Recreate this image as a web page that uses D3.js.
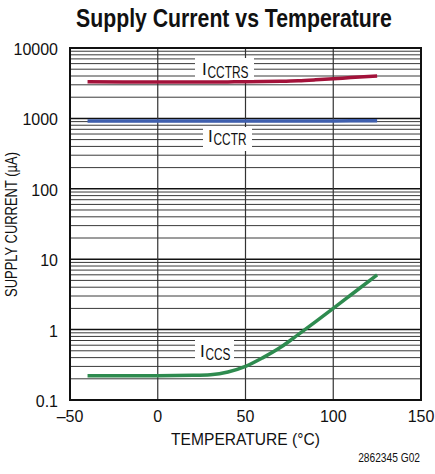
<!DOCTYPE html>
<html><head><meta charset="utf-8">
<script src="https://cdn.jsdelivr.net/npm/d3@7"></script>
<style>body{margin:0;background:#fff}svg{display:block}text{font-family:"Liberation Sans",Arial,sans-serif}</style>
</head><body>
<script>
const temps = [-40,-20,0,20,30,40,50,60,70,80,90,100,110,125];
const iccTRS = [3320,3300,3290,3290,3290,3300,3310,3330,3370,3430,3530,3650,3800,4000];
const iccTR  = [918,918,918,918,918,918,918,918,919,920,921,922,923,925];
const iccS   = [0.221,0.221,0.221,0.224,0.229,0.25,0.30,0.40,0.56,0.85,1.3,2.0,3.1,6.0];
const xTicks = [-50,0,50,100,150];
const yTicks = [0.1,1,10,100,1000,10000];
const yTickLabels = ["0.1","1","10","100","1000","10000"];

const W=435,H=474, L=70,R=421,T=48,B=400;
const svg=d3.select("body").append("svg").attr("width",W).attr("height",H);
const x=d3.scaleLinear().domain([-50,150]).range([L,R]);
const y=d3.scaleLog().domain([0.1,10000]).range([B,T]);

// grid
const minor=[];
for(let e=-1;e<4;e++){for(let m=2;m<=9;m++){minor.push(m*Math.pow(10,e));}}
svg.append("g").selectAll("line").data(minor).join("line")
 .attr("x1",L).attr("x2",R).attr("y1",d=>y(d)).attr("y2",d=>y(d))
 .attr("stroke","#3a3a3a").attr("stroke-width",1);
svg.append("g").selectAll("line").data(yTicks).join("line")
 .attr("x1",L).attr("x2",R).attr("y1",d=>y(d)).attr("y2",d=>y(d))
 .attr("stroke","#111").attr("stroke-width",1.5);
svg.append("g").selectAll("line").data(xTicks).join("line")
 .attr("y1",T).attr("y2",B).attr("x1",d=>x(d)).attr("x2",d=>x(d))
 .attr("stroke","#333").attr("stroke-width",1.2);
svg.append("rect").attr("x",L).attr("y",T).attr("width",R-L).attr("height",B-T)
 .attr("fill","none").attr("stroke","#111").attr("stroke-width",2);

// curves
const line=d3.line().curve(d3.curveMonotoneX);
function drawSeries(vals,color){
  svg.append("path").attr("d",line(temps.map((t,i)=>[x(t),y(vals[i])])))
   .attr("fill","none").attr("stroke",color).attr("stroke-width",3.5);
}
drawSeries(iccTRS,"#a3123a");
drawSeries(iccTR,"#3f5fae");
drawSeries(iccS,"#2e8b4f");

// condensed text helper: scales horizontally to a target width
function condensed(parent,str,size,targetW,anchor,tx,ty,rot,weight){
  const g=parent.append("g");
  const t=g.append("text").attr("font-size",size).attr("fill","#111").attr("text-anchor",anchor)
    .attr("font-weight",weight||"normal").text(str);
  const w=t.node().getComputedTextLength();
  const s=targetW/w;
  g.attr("transform",`translate(${tx},${ty})`+(rot?` rotate(${rot})`:"")+` scale(${s},1)`);
  return g;
}

// labels with white background
function label(box,ix,iy,sub,subW){
  const g=svg.append("g");
  g.append("rect").attr("fill","#fff").attr("x",box[0]).attr("y",box[1]).attr("width",box[2]-box[0]).attr("height",box[3]-box[1]);
  g.append("text").attr("x",ix).attr("y",iy).attr("font-size",17).attr("fill","#111").text("I");
  condensed(g,sub,16.5,subW,"start",ix+5.5,iy+3);
}
label([195,58,254,80],202,75,"CCTRS",41);
label([203,127,252,151],208,142,"CCTR",33);
label([195,338,234,365],200,357,"CCS",25);

// axes labels
svg.append("g").selectAll("text").data(xTicks).join("text")
 .attr("x",d=>x(d)).attr("y",422).attr("text-anchor","middle").attr("font-size",16).attr("fill","#111")
 .text(d=>d<0?"\u2013"+Math.abs(d):d);
svg.append("g").selectAll("text").data(yTicks).join("text")
 .attr("x",58).attr("y",d=>y(d)+7).attr("text-anchor","end").attr("font-size",16).attr("fill","#111")
 .text((d,i)=>yTickLabels[i]);
condensed(svg,"TEMPERATURE (°C)",17,149,"middle",245.5,445);
condensed(svg,"SUPPLY CURRENT (µA)",17,145,"middle",17,224.5,-90);
condensed(svg,"Supply Current vs Temperature",25,316,"middle",234,27,0,"bold");
condensed(svg,"2862345 G02",12,62,"end",420,462);
</script>
</body></html>
